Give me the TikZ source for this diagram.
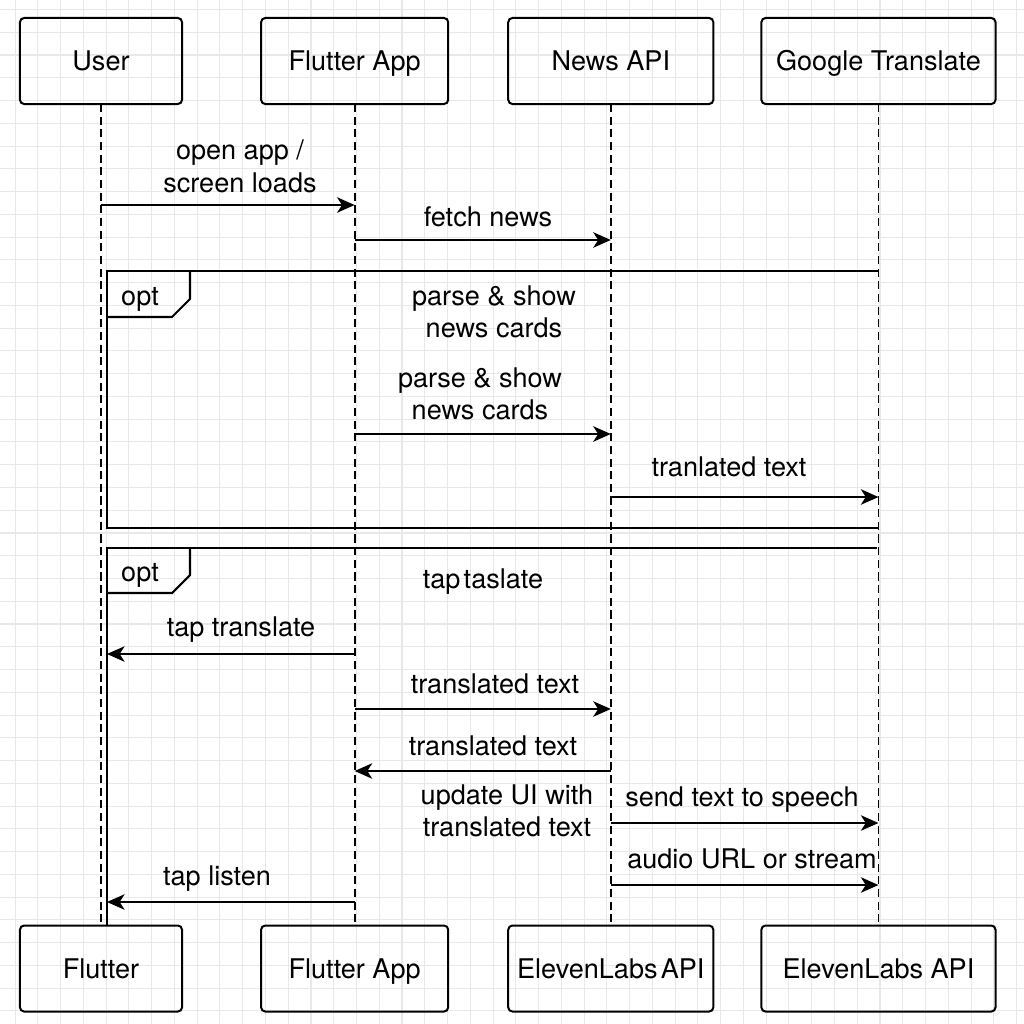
\documentclass[tikz,border=0pt]{standalone}
\usepackage{fontspec}
\setmainfont{TeX Gyre Heros}
\usetikzlibrary{arrows.meta}
\usetikzlibrary{positioning}

\begin{document}
\begin{tikzpicture}[x=0.01cm,y=-0.01cm,
every node/.style={font=\fontsize{7.7}{9.1}\selectfont},
actor/.style={draw,line width=0.57pt,rounded corners=1.2pt,minimum height=0.86cm,inner sep=0pt,outer sep=0pt,text height=5.5pt,text depth=0pt},
lifeline/.style={line width=0.5pt,dash pattern=on 2.3pt off 1.3pt},
msg/.style={line width=0.5pt,-{Stealth[length=5pt,width=4.4pt,inset=1.4pt]}},
frame/.style={line width=0.6pt},
lbl/.style={anchor=base,align=center,inner sep=0pt},
gridline/.style={black!9,line width=0.3pt}]
\useasboundingbox (0,0) rectangle (1024,1024);
\fill[white] (0,0) rectangle (1024,1024);
\foreach \i in {0,...,44}{
\draw[gridline] (15.1+22.76*\i,0) -- (15.1+22.76*\i,1024);
\draw[gridline] (0,9.5+22.76*\i) -- (1024,9.5+22.76*\i);
}
%%% top row %%%
\node[actor,minimum width=1.62cm] (usr) at (101,61) {User};
\node[actor,minimum width=1.87cm,right=0.79cm of usr] (app) {Flutter App};
\node[actor,minimum width=2.05cm,right=0.6cm of app] (news) {News API};
\node[actor,minimum width=2.34cm,right=0.48cm of news] (gtr) {Google Translate};
%%% bottom row %%%
\node[actor,minimum width=1.62cm,below=8.21cm of usr] (bflu) {Flutter};
\node[actor,minimum width=1.87cm,below=8.21cm of app] (bapp) {Flutter App};
\node[actor,minimum width=2.05cm,below=8.21cm of news] (bel1) {ElevenLabs\hspace{0.12em}API};
\node[actor,minimum width=2.34cm,below=8.21cm of gtr] (bel2) {ElevenLabs API};
%%% lifelines %%%
\draw[lifeline] (usr.south) -- (bflu.north);
\draw[lifeline] (app.south) -- (bapp.north);
\draw[lifeline] (news.south) -- (bel1.north);
\draw[lifeline] (gtr.south) -- (bel2.north);
%%% opt frames %%%
\draw[frame] (gtr |- 0,271) -- (107,271) -- (107,528) -- (gtr |- 0,528);
\draw[frame] (107,317) -- (172,317) -- (190,299) -- (190,271);
\node[lbl] (opt1) at (140,305) {opt};
\coordinate (fr) at (107,548);
\draw[frame] (877,548) -- (fr) -- (fr |- bflu.north);
\draw[frame] (107,593) -- (172,593) -- (190,575) -- (190,548);
\node[lbl] (opt2) at (140,581) {opt};
%%% messages %%%
\draw[msg] (usr |- 0,205) -- (app |- 0,205);
\node[lbl] (m1) at (240,192) {open app /\\screen loads};
\draw[msg] (app |- 0,240) -- (news |- 0,240);
\node[lbl] (m2) at (488,226) {fetch news};
\node[lbl] (n1) at (494,337) {parse \& show\\news cards};
\draw[msg] (app |- 0,434) -- (news |- 0,434);
\node[lbl] (m3) at (480,419) {parse \& show\\news cards};
\draw[msg] (news |- 0,497) -- (gtr |- 0,497);
\node[lbl] (m4) at (729,476) {tranlated text};
\node[lbl] (n2) at (483,588) {tap\hspace{0.12em}taslate};
\draw[msg] (app |- 0,654) -- (fr |- 0,654);
\node[lbl] (m5) at (241,636) {tap translate};
\draw[msg] (app |- 0,709) -- (news |- 0,709);
\node[lbl] (m6) at (495,693) {translated text};
\draw[msg] (news |- 0,771) -- (app |- 0,771);
\node[lbl] (m7) at (493,755) {translated text};
\node[lbl] (n3) at (507,836) {update UI with\\translated text};
\draw[msg] (news |- 0,823) -- (gtr |- 0,823);
\node[lbl] (m8) at (742,806) {send text to speech};
\draw[msg] (news |- 0,885) -- (gtr |- 0,885);
\node[lbl] (m9) at (752,868) {audio URL or stream};
\draw[msg] (app |- 0,902) -- (fr |- 0,902);
\node[lbl] (m10) at (217,885) {tap listen};
\end{tikzpicture}
\end{document}
